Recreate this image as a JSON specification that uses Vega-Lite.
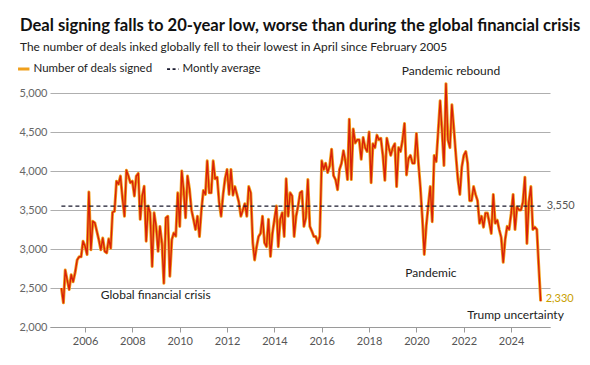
{
  "$schema": "https://vega.github.io/schema/vega-lite/v6.json",
  "width": 500,
  "height": 234,
  "autosize": {"type": "none"},
  "padding": {"left": 50, "top": 93, "right": 40, "bottom": 38},
  "background": "white",
  "config": {"font": "Lato", "view": {"stroke": null}},
  "title": {
    "text": "Deal signing falls to 20-year low, worse than during the global financial crisis",
    "subtitle": "The number of deals inked globally fell to their lowest in April since February 2005",
    "anchor": "start",
    "frame": "group",
    "dx": -30,
    "offset": 10,
    "font": "Lato",
    "fontSize": 16.6,
    "fontWeight": "bold",
    "color": "#111111",
    "subtitleFont": "Lato",
    "subtitleFontSize": 11.9,
    "subtitleColor": "#222222",
    "subtitlePadding": 8
  },
  "datasets": {
    "deals": [
      {"month":"2005-01-01","deals":2500},{"month":"2005-02-01","deals":2310},{"month":"2005-03-01","deals":2730},{"month":"2005-04-01","deals":2600},{"month":"2005-05-01","deals":2480},{"month":"2005-06-01","deals":2670},{"month":"2005-07-01","deals":2580},{"month":"2005-08-01","deals":2700},{"month":"2005-09-01","deals":2860},{"month":"2005-10-01","deals":2900},{"month":"2005-11-01","deals":2900},{"month":"2005-12-01","deals":3100},
      {"month":"2006-01-01","deals":3035},{"month":"2006-02-01","deals":2930},{"month":"2006-03-01","deals":3730},{"month":"2006-04-01","deals":2990},{"month":"2006-05-01","deals":3355},{"month":"2006-06-01","deals":3335},{"month":"2006-07-01","deals":3230},{"month":"2006-08-01","deals":3120},{"month":"2006-09-01","deals":2990},{"month":"2006-10-01","deals":3140},{"month":"2006-11-01","deals":2970},{"month":"2006-12-01","deals":2950},
      {"month":"2007-01-01","deals":3130},{"month":"2007-02-01","deals":3010},{"month":"2007-03-01","deals":3470},{"month":"2007-04-01","deals":3485},{"month":"2007-05-01","deals":3870},{"month":"2007-06-01","deals":3830},{"month":"2007-07-01","deals":3935},{"month":"2007-08-01","deals":3655},{"month":"2007-09-01","deals":3420},{"month":"2007-10-01","deals":4010},{"month":"2007-11-01","deals":3935},{"month":"2007-12-01","deals":3850},
      {"month":"2008-01-01","deals":3870},{"month":"2008-02-01","deals":3680},{"month":"2008-03-01","deals":3935},{"month":"2008-04-01","deals":3970},{"month":"2008-05-01","deals":3380},{"month":"2008-06-01","deals":3680},{"month":"2008-07-01","deals":3805},{"month":"2008-08-01","deals":3100},{"month":"2008-09-01","deals":3550},{"month":"2008-10-01","deals":3465},{"month":"2008-11-01","deals":2775},{"month":"2008-12-01","deals":3465},
      {"month":"2009-01-01","deals":3290},{"month":"2009-02-01","deals":2970},{"month":"2009-03-01","deals":3290},{"month":"2009-04-01","deals":3075},{"month":"2009-05-01","deals":2560},{"month":"2009-06-01","deals":3400},{"month":"2009-07-01","deals":3420},{"month":"2009-08-01","deals":2650},{"month":"2009-09-01","deals":3120},{"month":"2009-10-01","deals":3205},{"month":"2009-11-01","deals":3165},{"month":"2009-12-01","deals":3720},
      {"month":"2010-01-01","deals":3290},{"month":"2010-02-01","deals":4000},{"month":"2010-03-01","deals":3765},{"month":"2010-04-01","deals":3400},{"month":"2010-05-01","deals":3935},{"month":"2010-06-01","deals":3765},{"month":"2010-07-01","deals":3500},{"month":"2010-08-01","deals":3380},{"month":"2010-09-01","deals":3250},{"month":"2010-10-01","deals":3420},{"month":"2010-11-01","deals":3160},{"month":"2010-12-01","deals":3500},
      {"month":"2011-01-01","deals":3750},{"month":"2011-02-01","deals":3700},{"month":"2011-03-01","deals":4130},{"month":"2011-04-01","deals":3720},{"month":"2011-05-01","deals":3720},{"month":"2011-06-01","deals":4130},{"month":"2011-07-01","deals":3900},{"month":"2011-08-01","deals":3920},{"month":"2011-09-01","deals":3600},{"month":"2011-10-01","deals":3420},{"month":"2011-11-01","deals":3700},{"month":"2011-12-01","deals":3900},
      {"month":"2012-01-01","deals":4020},{"month":"2012-02-01","deals":3700},{"month":"2012-03-01","deals":4020},{"month":"2012-04-01","deals":3690},{"month":"2012-05-01","deals":3800},{"month":"2012-06-01","deals":3700},{"month":"2012-07-01","deals":3600},{"month":"2012-08-01","deals":3420},{"month":"2012-09-01","deals":3500},{"month":"2012-10-01","deals":3580},{"month":"2012-11-01","deals":3420},{"month":"2012-12-01","deals":3800},
      {"month":"2013-01-01","deals":3720},{"month":"2013-02-01","deals":3080},{"month":"2013-03-01","deals":2860},{"month":"2013-04-01","deals":3030},{"month":"2013-05-01","deals":3160},{"month":"2013-06-01","deals":3200},{"month":"2013-07-01","deals":3420},{"month":"2013-08-01","deals":3080},{"month":"2013-09-01","deals":3030},{"month":"2013-10-01","deals":3380},{"month":"2013-11-01","deals":2905},{"month":"2013-12-01","deals":3200},
      {"month":"2014-01-01","deals":3380},{"month":"2014-02-01","deals":3550},{"month":"2014-03-01","deals":3030},{"month":"2014-04-01","deals":3380},{"month":"2014-05-01","deals":3465},{"month":"2014-06-01","deals":3160},{"month":"2014-07-01","deals":3900},{"month":"2014-08-01","deals":3420},{"month":"2014-09-01","deals":3720},{"month":"2014-10-01","deals":3680},{"month":"2014-11-01","deals":3160},{"month":"2014-12-01","deals":3420},
      {"month":"2015-01-01","deals":3550},{"month":"2015-02-01","deals":3720},{"month":"2015-03-01","deals":3740},{"month":"2015-04-01","deals":3290},{"month":"2015-05-01","deals":3400},{"month":"2015-06-01","deals":3890},{"month":"2015-07-01","deals":3290},{"month":"2015-08-01","deals":3230},{"month":"2015-09-01","deals":3160},{"month":"2015-10-01","deals":3160},{"month":"2015-11-01","deals":3075},{"month":"2015-12-01","deals":3160},
      {"month":"2016-01-01","deals":4130},{"month":"2016-02-01","deals":4020},{"month":"2016-03-01","deals":4100},{"month":"2016-04-01","deals":3980},{"month":"2016-05-01","deals":4060},{"month":"2016-06-01","deals":4280},{"month":"2016-07-01","deals":3940},{"month":"2016-08-01","deals":3890},{"month":"2016-09-01","deals":3760},{"month":"2016-10-01","deals":4020},{"month":"2016-11-01","deals":4100},{"month":"2016-12-01","deals":4260},
      {"month":"2017-01-01","deals":4120},{"month":"2017-02-01","deals":3890},{"month":"2017-03-01","deals":4665},{"month":"2017-04-01","deals":3890},{"month":"2017-05-01","deals":4540},{"month":"2017-06-01","deals":4360},{"month":"2017-07-01","deals":4400},{"month":"2017-08-01","deals":4400},{"month":"2017-09-01","deals":4150},{"month":"2017-10-01","deals":4430},{"month":"2017-11-01","deals":4300},{"month":"2017-12-01","deals":4250},
      {"month":"2018-01-01","deals":4500},{"month":"2018-02-01","deals":3850},{"month":"2018-03-01","deals":4350},{"month":"2018-04-01","deals":4300},{"month":"2018-05-01","deals":4460},{"month":"2018-06-01","deals":4400},{"month":"2018-07-01","deals":4420},{"month":"2018-08-01","deals":4200},{"month":"2018-09-01","deals":3880},{"month":"2018-10-01","deals":4420},{"month":"2018-11-01","deals":4300},{"month":"2018-12-01","deals":4200},
      {"month":"2019-01-01","deals":4300},{"month":"2019-02-01","deals":4350},{"month":"2019-03-01","deals":3800},{"month":"2019-04-01","deals":4300},{"month":"2019-05-01","deals":4250},{"month":"2019-06-01","deals":4400},{"month":"2019-07-01","deals":4610},{"month":"2019-08-01","deals":3950},{"month":"2019-09-01","deals":4160},{"month":"2019-10-01","deals":4200},{"month":"2019-11-01","deals":4100},{"month":"2019-12-01","deals":4100},
      {"month":"2020-01-01","deals":4480},{"month":"2020-02-01","deals":4100},{"month":"2020-03-01","deals":3800},{"month":"2020-04-01","deals":3400},{"month":"2020-05-01","deals":2930},{"month":"2020-06-01","deals":3300},{"month":"2020-07-01","deals":3550},{"month":"2020-08-01","deals":3800},{"month":"2020-09-01","deals":3350},{"month":"2020-10-01","deals":4200},{"month":"2020-11-01","deals":4120},{"month":"2020-12-01","deals":4500},
      {"month":"2021-01-01","deals":4900},{"month":"2021-02-01","deals":4480},{"month":"2021-03-01","deals":4070},{"month":"2021-04-01","deals":5120},{"month":"2021-05-01","deals":4400},{"month":"2021-06-01","deals":4300},{"month":"2021-07-01","deals":4850},{"month":"2021-08-01","deals":4540},{"month":"2021-09-01","deals":4200},{"month":"2021-10-01","deals":3900},{"month":"2021-11-01","deals":3700},{"month":"2021-12-01","deals":4050},
      {"month":"2022-01-01","deals":4200},{"month":"2022-02-01","deals":4250},{"month":"2022-03-01","deals":4100},{"month":"2022-04-01","deals":3620},{"month":"2022-05-01","deals":3620},{"month":"2022-06-01","deals":3800},{"month":"2022-07-01","deals":3700},{"month":"2022-08-01","deals":3620},{"month":"2022-09-01","deals":3330},{"month":"2022-10-01","deals":3420},{"month":"2022-11-01","deals":3280},{"month":"2022-12-01","deals":3460},
      {"month":"2023-01-01","deals":3460},{"month":"2023-02-01","deals":3330},{"month":"2023-03-01","deals":3200},{"month":"2023-04-01","deals":3700},{"month":"2023-05-01","deals":3330},{"month":"2023-06-01","deals":3370},{"month":"2023-07-01","deals":3250},{"month":"2023-08-01","deals":3150},{"month":"2023-09-01","deals":2830},{"month":"2023-10-01","deals":3120},{"month":"2023-11-01","deals":3290},{"month":"2023-12-01","deals":3250},
      {"month":"2024-01-01","deals":3450},{"month":"2024-02-01","deals":3700},{"month":"2024-03-01","deals":3250},{"month":"2024-04-01","deals":3540},{"month":"2024-05-01","deals":3500},{"month":"2024-06-01","deals":3500},{"month":"2024-07-01","deals":3600},{"month":"2024-08-01","deals":3920},{"month":"2024-09-01","deals":3070},{"month":"2024-10-01","deals":3600},{"month":"2024-11-01","deals":3800},{"month":"2024-12-01","deals":3250},
      {"month":"2025-01-01","deals":3280},{"month":"2025-02-01","deals":3250},{"month":"2025-03-01","deals":2800},{"month":"2025-04-01","deals":2330}
    ],
    "avg": [{"month": "2005-01-01", "end": "2025-04-01", "deals": 3550}],
    "avgLabel": [{"month": "2025-04-01", "deals": 3550}],
    "last": [{"month": "2025-04-01", "deals": 2330}],
    "notes": [
      {"month": "2021-06-18", "deals": 5286, "label": "Pandemic rebound"},
      {"month": "2020-08-12", "deals": 2690, "label": "Pandemic"},
      {"month": "2024-03-10", "deals": 2154, "label": "Trump uncertainty"}
    ],
    "notesLeft": [
      {"month": "2006-09-01", "deals": 2410, "label": "Global financial crisis"}
    ]
  },
  "encoding": {
    "x": {
      "field": "month", "type": "temporal", "title": null,
      "scale": {"type": "utc", "domain": [{"year": 2004, "month": 7, "date": 9, "utc": true}, {"year": 2025, "month": 8, "date": 23, "utc": true}]},
      "axis": {
        "values": [{"year": 2006, "utc": true}, {"year": 2008, "utc": true}, {"year": 2010, "utc": true}, {"year": 2012, "utc": true}, {"year": 2014, "utc": true}, {"year": 2016, "utc": true}, {"year": 2018, "utc": true}, {"year": 2020, "utc": true}, {"year": 2022, "utc": true}, {"year": 2024, "utc": true}],
        "format": "%Y", "formatType": "utc",
        "grid": false, "domain": true, "domainColor": "#9a9a9a", "domainWidth": 1.2,
        "ticks": true, "tickSize": 5, "tickColor": "#9a9a9a",
        "labelColor": "#555555", "labelFontSize": 11, "labelPadding": 3, "labelFont": "Lato"
      }
    },
    "y": {
      "field": "deals", "type": "quantitative", "title": null,
      "scale": {"domain": [2000, 5000], "nice": false},
      "axis": {
        "values": [2000, 2500, 3000, 3500, 4000, 4500, 5000],
        "format": ",.0f", "grid": true, "gridColor": "#afafaf", "gridWidth": 1, "gridOpacity": 1,
        "domain": false, "ticks": false, "labelOverlap": false,
        "labelColor": "#666666", "labelFontSize": 11, "labelPadding": 3, "labelFont": "Lato"
      }
    }
  },
  "layer": [
    {
      "data": {"name": "deals"},
      "mark": {"type": "line", "strokeWidth": 3, "strokeJoin": "round"},
      "encoding": {
        "color": {
          "datum": "Number of deals signed",
          "scale": {"domain": ["Number of deals signed", "Montly average"], "range": ["#f0a01c", "#1a1a2e"]},
          "legend": {
            "title": null, "orient": "none", "legendX": -32, "legendY": -30, "direction": "horizontal",
            "symbolType": "stroke", "symbolSize": 130, "symbolStrokeWidth": 3,
            "labelFontSize": 11.5, "labelColor": "#222222", "labelFont": "Lato", "labelOffset": 4, "columnPadding": 10,
            "encode": {"symbols": {"update": {
              "stroke": {"signal": "datum.value === 'Montly average' ? '#1a1a2e' : '#e8661a'"},
              "strokeDash": {"signal": "datum.value === 'Montly average' ? [3, 2.5] : [1, 0]"},
              "strokeWidth": {"signal": "datum.value === 'Montly average' ? 1.6 : 3"}
            }}}
          }
        }
      }
    },
    {
      "data": {"name": "deals"},
      "mark": {"type": "line", "strokeWidth": 1.4, "color": "#d8200a", "strokeJoin": "round"},
      "encoding": {}
    },
    {
      "data": {"name": "avg"},
      "mark": {"type": "rule", "strokeDash": [4, 3], "strokeWidth": 1.4},
      "encoding": {
        "x2": {"field": "end"},
        "color": {"datum": "Montly average"}
      }
    },
    {
      "data": {"name": "avgLabel"},
      "mark": {"type": "text", "align": "left", "baseline": "middle", "dx": 6, "fontSize": 11, "color": "#555555", "font": "Lato"},
      "encoding": {
        "text": {"field": "deals", "type": "quantitative", "format": ","}
      }
    },
    {
      "data": {"name": "last"},
      "mark": {"type": "text", "align": "left", "baseline": "middle", "dx": 5, "dy": -2, "fontSize": 11, "color": "#c9a000", "font": "Lato"},
      "encoding": {
        "text": {"field": "deals", "type": "quantitative", "format": ","}
      }
    },
    {
      "data": {"name": "notes"},
      "mark": {"type": "text", "align": "center", "baseline": "middle", "fontSize": 12, "color": "#222222", "font": "Lato"},
      "encoding": {
        "text": {"field": "label"}
      }
    },
    {
      "data": {"name": "notesLeft"},
      "mark": {"type": "text", "align": "left", "baseline": "middle", "fontSize": 12, "color": "#222222", "font": "Lato"},
      "encoding": {
        "text": {"field": "label"}
      }
    }
  ]
}
